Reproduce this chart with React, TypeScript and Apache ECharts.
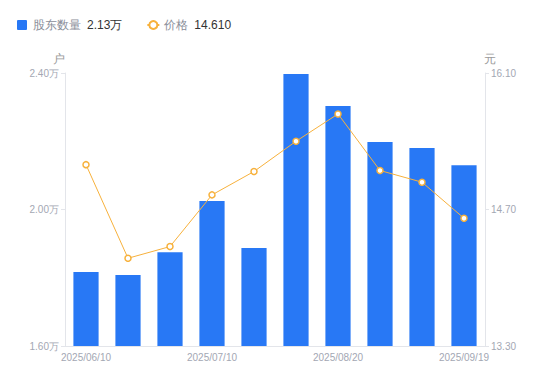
import React, { useEffect, useRef } from "react";
import * as echarts from "echarts";

const categories = [
  "2025/06/10", "2025/06/20", "2025/06/30", "2025/07/10", "2025/07/20",
  "2025/07/31", "2025/08/20", "2025/08/31", "2025/09/10", "2025/09/19",
];
const holders = [18170, 18080, 18750, 20250, 18870, 23970, 23030, 21980, 21800, 21300];
const prices = [15.16, 14.2, 14.32, 14.85, 15.09, 15.4, 15.68, 15.1, 14.98, 14.61];
const leftTicks = [16000, 20000, 24000];
const rightTicks = [13.3, 14.7, 16.1];

export default function App() {
  const ref = useRef<HTMLDivElement>(null);
  useEffect(() => {
    if (!ref.current) return;
    const chart = echarts.init(ref.current, null, { renderer: "svg" });
    const lastH = holders[holders.length - 1];
    const lastP = prices[prices.length - 1];
    const labelColor = "#a3a7b3";
    const axisLineColor = "#e3e5ea";
    chart.setOption({
      animation: false,
      legend: {
        left: 4,
        top: 6,
        itemWidth: 12,
        itemHeight: 10,
        itemGap: 24,
        symbolKeepAspect: true,
        data: [
          { name: "股东数量", icon: "path://M1,0h8a1,1 0 0 1 1,1v8a1,1 0 0 1 -1,1h-8a1,1 0 0 1 -1,-1v-8a1,1 0 0 1 1,-1z" },
          { name: "价格" },
        ],
        formatter: (name: string) =>
          name === "股东数量"
            ? `{n|${name}}{v|${(lastH / 10000).toFixed(2)}万}`
            : `{n|${name}}{v|${lastP.toFixed(3)}}`,
        textStyle: {
          rich: {
            n: { color: "#8a8e99", fontSize: 12, padding: [0, 6, 0, 0] },
            v: { color: "#333", fontSize: 12 },
          },
        },
      },
      grid: { left: 57, right: 73, top: 65, bottom: 43 },
      xAxis: {
        type: "category",
        data: categories,
        axisLine: { lineStyle: { color: axisLineColor } },
        axisTick: { show: false },
        axisLabel: {
          interval: 2,
          color: labelColor,
          fontSize: 10,
          margin: 6,
          showMinLabel: true,
          showMaxLabel: true,
        },
      },
      yAxis: [
        {
          type: "value",
          name: "户",
          nameGap: 8,
          nameTextStyle: { color: "#999", fontSize: 12, padding: [0, 12, 0, 0] },
          min: leftTicks[0],
          max: leftTicks[2],
          interval: 4000,
          axisLine: { show: true, lineStyle: { color: axisLineColor } },
          axisTick: { show: true, length: 4, lineStyle: { color: axisLineColor } },
          splitLine: { show: false },
          axisLabel: {
            color: labelColor,
            fontSize: 10,
            margin: 6,
            formatter: (v: number) => `${(v / 10000).toFixed(2)}万`,
          },
        },
        {
          type: "value",
          name: "元",
          nameGap: 8,
          nameTextStyle: { color: "#999", fontSize: 12, padding: [0, 0, 0, 10] },
          min: rightTicks[0],
          max: rightTicks[2],
          axisLine: { show: true, lineStyle: { color: axisLineColor } },
          axisTick: {
            show: true,
            length: 4,
            lineStyle: { color: axisLineColor },
            customValues: rightTicks,
          },
          splitLine: { show: false },
          axisLabel: {
            color: labelColor,
            fontSize: 10,
            margin: 6,
            customValues: rightTicks,
            formatter: (v: number) => v.toFixed(2),
          },
        },
      ],
      series: [
        {
          name: "股东数量",
          type: "bar",
          data: holders,
          barWidth: "60%",
          itemStyle: { color: "#2878f5" },
        },
        {
          name: "价格",
          type: "line",
          yAxisIndex: 1,
          data: prices,
          symbol: "circle",
          symbolSize: 6,
          showAllSymbol: true,
          lineStyle: { color: "#f7b13c", width: 1 },
          itemStyle: { color: "#fff", borderColor: "#f7b13c", borderWidth: 1.5 },
        },
      ],
    });
    return () => chart.dispose();
  }, []);
  return <div ref={ref} style={{ width: 550, height: 381 }} />;
}
